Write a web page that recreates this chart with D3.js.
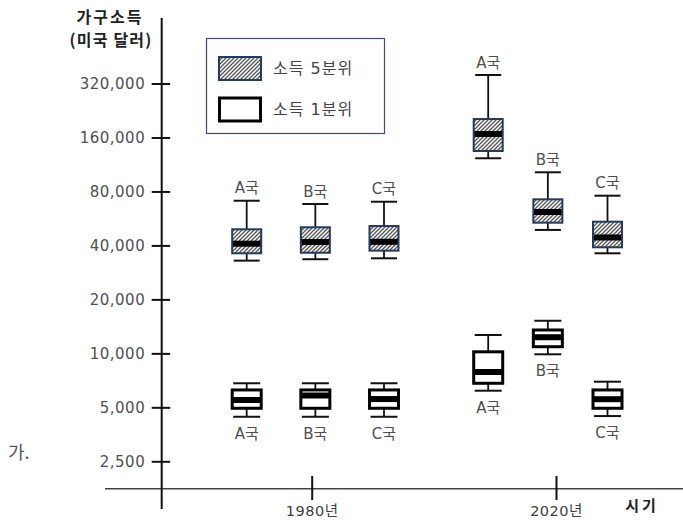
<!DOCTYPE html>
<html><head><meta charset="utf-8">
<script src="https://cdn.jsdelivr.net/npm/d3@7"></script>
<style>
html,body{margin:0;padding:0;background:#fff;}
svg{display:block;}
</style></head>
<body>
<svg id="chart" width="683" height="520"></svg>
<script>
// ---- data ----
const periods = [1980, 2020];
const periodLabels = ["1980년", "2020년"];
const countries = ["A국", "B국", "C국"];
const tickValues = [2500, 5000, 10000, 20000, 40000, 80000, 160000, 320000];
// [min, q1, median, q3, max]
const top1980 = [[32900, 36150, 40900, 49200, 71000], [33500, 36400, 41800, 50500, 68100], [33900, 37400, 41900, 51300, 70100]];
const top2020 = [[122500, 134500, 167300, 202800, 357000], [48800, 53550, 61450, 72300, 102300], [36150, 39050, 44300, 54250, 75750]];
const bottom1980 = [[4430, 4940, 5495, 6250, 6810], [4430, 4940, 5820, 6250, 6810], [4430, 4940, 5560, 6250, 6810]];
const bottom2020 = [[6190, 6810, 7870, 10200, 12660], [9880, 10890, 12300, 13500, 15200], [4470, 4940, 5550, 6250, 6950]];
const legendLabels = ["소득 5분위", "소득 1분위"];

const svg = d3.select("#chart");
const font = "'DejaVu Sans','Noto Sans CJK KR',sans-serif";
const kfont = "'Noto Sans CJK KR','DejaVu Sans',sans-serif";

// hatch pattern
const defs = svg.append("defs");
const pat = defs.append("pattern").attr("id", "hatch").attr("patternUnits", "userSpaceOnUse")
  .attr("width", 4).attr("height", 4);
pat.append("rect").attr("width", 4).attr("height", 4).attr("fill", "#fff");
pat.append("path").attr("d", "M-1,1 l2,-2 M0,4 l4,-4 M3,5 l2,-2")
  .attr("stroke", "#555").attr("stroke-width", 1.3);

// scales
const y = d3.scaleLog().base(2).domain([2500, 320000]).range([461.3, 83.5]);
const xYear = d3.scaleLinear().domain([1980, 2020]).range([311.7, 556]);
const inner = {
  1980: d3.scalePoint().domain(countries).range([-65, 72.3]),
  2020: d3.scalePoint().domain(countries).range([-67.8, 51.5])
};
const cx = (p, c) => xYear(p) + inner[p](c);

// y axis
const axisX = 161.7;
const yAxis = d3.axisLeft(y).tickValues(tickValues).tickFormat(d3.format(",")).tickSize(0).tickPadding(0);
const yg = svg.append("g").attr("transform", `translate(${axisX},0)`).call(yAxis);
yg.select(".domain").remove();
yg.selectAll(".tick text").attr("x", -16.5).attr("font-family", font).attr("font-size", 15)
  .attr("letter-spacing", 0.5).attr("fill", "#505050");
yg.selectAll(".tick").append("line").attr("x1", -10).attr("x2", 8.5).attr("stroke", "#111").attr("stroke-width", 2);

// x axis line
svg.append("line").attr("x1", 105).attr("x2", 683).attr("y1", 488.7).attr("y2", 488.7)
  .attr("stroke", "#444").attr("stroke-width", 1.5);
svg.append("line").attr("x1", axisX).attr("x2", axisX).attr("y1", 18).attr("y2", 509)
  .attr("stroke", "#111").attr("stroke-width", 2);

const xAxis = d3.axisBottom(xYear).tickValues(periods).tickSize(0).tickFormat((d, i) => periodLabels[i]);
const xg = svg.append("g").attr("transform", "translate(0,488.7)").call(xAxis);
xg.select(".domain").remove();
xg.selectAll(".tick line").remove();
xg.selectAll(".tick").append("line").attr("y1", -12.7).attr("y2", 11.3).attr("stroke", "#111").attr("stroke-width", 2);
xg.selectAll(".tick text").attr("y", 17).attr("dy", "0.71em").attr("font-family", font).attr("font-size", 14.5)
  .attr("letter-spacing", 0.5).attr("fill", "#404040");

// axis titles
svg.append("text").attr("x", 110).attr("y", 23).attr("text-anchor", "middle").attr("font-family", kfont)
  .attr("font-weight", "bold").attr("font-size", 16).attr("letter-spacing", 2).attr("fill", "#222").text("가구소득");
svg.append("text").attr("x", 111).attr("y", 46).attr("text-anchor", "middle").attr("font-family", kfont)
  .attr("font-weight", "bold").attr("font-size", 16).attr("letter-spacing", 1.2).attr("fill", "#222").text("(미국 달러)");
svg.append("text").attr("x", 642).attr("y", 511).attr("text-anchor", "middle").attr("font-family", kfont)
  .attr("font-weight", "bold").attr("font-size", 15).attr("letter-spacing", 3).attr("fill", "#222").text("시기");
svg.append("text").attr("x", 8).attr("y", 459).attr("font-family", kfont)
  .attr("font-size", 18).attr("fill", "#555").text("가.");

// boxes
function drawBox(g, stats, x, kind, label) {
  const [mn, q1, md, q3, mx] = stats;
  const w = 29, capW = kind === "top" ? 26 : 27;
  const stroke = kind === "top" ? "#243a5e" : "#000";
  const sw = kind === "top" ? 2 : 3;
  g.append("line").attr("x1", x).attr("x2", x).attr("y1", y(mx)).attr("y2", y(q3)).attr("stroke", "#111").attr("stroke-width", 1.8);
  g.append("line").attr("x1", x).attr("x2", x).attr("y1", y(q1)).attr("y2", y(mn)).attr("stroke", "#111").attr("stroke-width", 1.8);
  g.append("line").attr("x1", x - capW / 2).attr("x2", x + capW / 2).attr("y1", y(mx)).attr("y2", y(mx)).attr("stroke", "#111").attr("stroke-width", 2);
  g.append("line").attr("x1", x - capW / 2).attr("x2", x + capW / 2).attr("y1", y(mn)).attr("y2", y(mn)).attr("stroke", "#111").attr("stroke-width", 2);
  g.append("rect").attr("x", x - w / 2).attr("y", y(q3)).attr("width", w).attr("height", y(q1) - y(q3))
    .attr("fill", kind === "top" ? "url(#hatch)" : "#fff");
  g.append("rect").attr("x", x - w / 2).attr("y", y(md) - 3).attr("width", w).attr("height", 6).attr("fill", "#000");
  g.append("rect").attr("x", x - w / 2).attr("y", y(q3)).attr("width", w).attr("height", y(q1) - y(q3))
    .attr("fill", "none").attr("stroke", stroke).attr("stroke-width", sw);
  const ly = kind === "top" ? y(mx) - 12.5 : y(mn) + 16.7;
  g.append("text").attr("x", x).attr("y", ly).attr("dy", "0.35em").attr("text-anchor", "middle")
    .attr("font-family", font).attr("font-size", 15).attr("fill", "#505050").text(label);
}
const series = [
  { p: 1980, kind: "top", data: top1980 },
  { p: 2020, kind: "top", data: top2020 },
  { p: 1980, kind: "bottom", data: bottom1980 },
  { p: 2020, kind: "bottom", data: bottom2020 }
];
const bg = svg.append("g");
series.forEach(s => s.data.forEach((st, i) => drawBox(bg, st, cx(s.p, countries[i]), s.kind, countries[i])));

// legend
const lg = svg.append("g");
lg.append("rect").attr("x", 206.5).attr("y", 38.5).attr("width", 178).attr("height", 95)
  .attr("fill", "#fff").attr("stroke", "#3d4c6b").attr("stroke-width", 1.2);
lg.append("rect").attr("x", 219).attr("y", 57).attr("width", 42).attr("height", 23)
  .attr("fill", "url(#hatch)").attr("stroke", "#243a5e").attr("stroke-width", 2);
lg.append("rect").attr("x", 219.5).attr("y", 98).attr("width", 41).attr("height", 23)
  .attr("fill", "#fff").attr("stroke", "#000").attr("stroke-width", 3);
legendLabels.forEach((t, i) => {
  lg.append("text").attr("x", 273).attr("y", 68.5 + i * 40.5).attr("dy", "0.35em").attr("font-family", font)
    .attr("font-size", 16).attr("letter-spacing", 1).attr("fill", "#444").text(t);
});
</script>
</body></html>
